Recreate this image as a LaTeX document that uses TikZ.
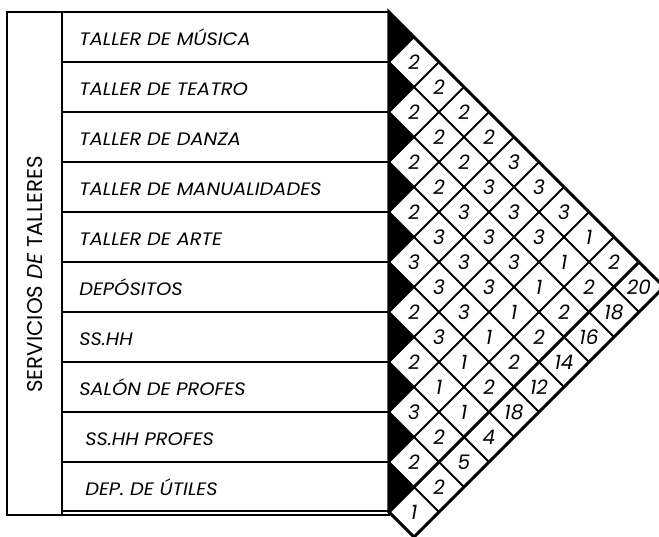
\documentclass[tikz,border=0pt]{standalone}
\usepackage{fontspec}
\setmainfont{Poppins}
\newfontfamily\rowfont{Poppins}[FakeStretch=1.08]
\begin{document}
\begin{tikzpicture}[x=37.5pt,y=37.5pt,
  rowtxt/.style={anchor=base west,inner sep=0pt,font=\rowfont\fontsize{13.5pt}{15pt}\selectfont\itshape},
  celltxt/.style={inner sep=0pt,font=\fontsize{15pt}{17pt}\selectfont\itshape},
  gridline/.style={line width=1.5pt},
  border/.style={line width=2.3pt,line join=miter}]
\useasboundingbox (-7.78,-0.48) rectangle (5.4,10.24);
\clip (-7.78,-0.48) rectangle (5.4,10.24);
% table of spaces
  \draw[line width=1.6pt] (-7.64,-0.06) rectangle (0,10);
  \draw[line width=1.6pt] (-6.54,-0.06) -- (-6.54,10);
  \draw[line width=1.2pt] (-6.54,9) -- (0,9);
  \draw[line width=1.2pt] (-6.54,8) -- (0,8);
  \draw[line width=1.2pt] (-6.54,7) -- (0,7);
  \draw[line width=1.2pt] (-6.54,6) -- (0,6);
  \draw[line width=1.2pt] (-6.54,5) -- (0,5);
  \draw[line width=1.2pt] (-6.54,4) -- (0,4);
  \draw[line width=1.2pt] (-6.54,3) -- (0,3);
  \draw[line width=1.2pt] (-6.54,2) -- (0,2);
  \draw[line width=1.2pt] (-6.54,1) -- (0,1);
  \draw[line width=1.2pt] (-6.54,0.02) -- (0,0.02);
\node[rotate=90,inner sep=0pt,font=\fontsize{16pt}{18pt}\selectfont] (title) at (-7.07,4.75) {SERVICIOS \textit{DE} TALLERES};
  \node[rowtxt] (m1) at (-6.2,9.33) {TALLER DE MÚSICA};
  \node[rowtxt] (m2) at (-6.2,8.33) {TALLER DE TEATRO};
  \node[rowtxt] (m3) at (-6.2,7.33) {TALLER DE DANZA};
  \node[rowtxt] (m4) at (-6.2,6.33) {TALLER DE MANUALIDADES};
  \node[rowtxt] (m5) at (-6.2,5.33) {TALLER DE ARTE};
  \node[rowtxt] (m6) at (-6.2,4.33) {DEPÓSITOS};
  \node[rowtxt] (m7) at (-6.2,3.33) {SS.HH};
  \node[rowtxt] (m8) at (-6.2,2.33) {SALÓN DE PROFES};
  \node[rowtxt] (m9) at (-6.08,1.33) {SS.HH PROFES};
  \node[rowtxt] (m10) at (-6.08,0.33) {DEP. DE ÚTILES};
% black half cells
  \fill (0,10) -- (0.5,9.5) -- (0,9) -- cycle;
  \fill (0,9) -- (0.5,8.5) -- (0,8) -- cycle;
  \fill (0,8) -- (0.5,7.5) -- (0,7) -- cycle;
  \fill (0,7) -- (0.5,6.5) -- (0,6) -- cycle;
  \fill (0,6) -- (0.5,5.5) -- (0,5) -- cycle;
  \fill (0,5) -- (0.5,4.5) -- (0,4) -- cycle;
  \fill (0,4) -- (0.5,3.5) -- (0,3) -- cycle;
  \fill (0,3) -- (0.5,2.5) -- (0,2) -- cycle;
  \fill (0,2) -- (0.5,1.5) -- (0,1) -- cycle;
  \fill (0,1) -- (0.5,0.5) -- (0,0) -- cycle;
% diamond grid
  \draw[gridline] (0,9) -- (5,4);
  \draw[gridline] (0,8) -- (4.5,3.5);
  \draw[gridline] (0,7) -- (4,3);
  \draw[gridline] (0,6) -- (3.5,2.5);
  \draw[gridline] (0,5) -- (3,2);
  \draw[gridline] (0,4) -- (2.5,1.5);
  \draw[gridline] (0,3) -- (2,1);
  \draw[gridline] (0,2) -- (1.5,0.5);
  \draw[gridline] (0,1) -- (1,0);
  \draw[gridline] (0,9) -- (0.5,9.5);
  \draw[gridline] (0,8) -- (1,9);
  \draw[gridline] (0,7) -- (1.5,8.5);
  \draw[gridline] (0,6) -- (2,8);
  \draw[gridline] (0,5) -- (2.5,7.5);
  \draw[gridline] (0,4) -- (3,7);
  \draw[gridline] (0,3) -- (3.5,6.5);
  \draw[gridline] (0,2) -- (4,6);
  \draw[gridline] (0,1) -- (4.5,5.5);
  \draw[border] (0,0) -- (5,5);
  \draw[border] (0,-0.02) -- (0,10) -- (5.5,4.5) -- (0.5,-0.5) -- (0,0);
% values
  \node[celltxt] (c1-2) at (0.5,9.0) {2};
  \node[celltxt] (c1-3) at (1.0,8.5) {2};
  \node[celltxt] (c1-4) at (1.5,8.0) {2};
  \node[celltxt] (c1-5) at (2.0,7.5) {2};
  \node[celltxt] (c1-6) at (2.5,7.0) {3};
  \node[celltxt] (c1-7) at (3.0,6.5) {3};
  \node[celltxt] (c1-8) at (3.5,6.0) {3};
  \node[celltxt] (c1-9) at (4.0,5.5) {1};
  \node[celltxt] (c1-10) at (4.5,5.0) {2};
  \node[celltxt] (c1-11) at (5.0,4.5) {20};
  \node[celltxt] (c2-3) at (0.5,8.0) {2};
  \node[celltxt] (c2-4) at (1.0,7.5) {2};
  \node[celltxt] (c2-5) at (1.5,7.0) {2};
  \node[celltxt] (c2-6) at (2.0,6.5) {3};
  \node[celltxt] (c2-7) at (2.5,6.0) {3};
  \node[celltxt] (c2-8) at (3.0,5.5) {3};
  \node[celltxt] (c2-9) at (3.5,5.0) {1};
  \node[celltxt] (c2-10) at (4.0,4.5) {2};
  \node[celltxt] (c2-11) at (4.5,4.0) {18};
  \node[celltxt] (c3-4) at (0.5,7.0) {2};
  \node[celltxt] (c3-5) at (1.0,6.5) {2};
  \node[celltxt] (c3-6) at (1.5,6.0) {3};
  \node[celltxt] (c3-7) at (2.0,5.5) {3};
  \node[celltxt] (c3-8) at (2.5,5.0) {3};
  \node[celltxt] (c3-9) at (3.0,4.5) {1};
  \node[celltxt] (c3-10) at (3.5,4.0) {2};
  \node[celltxt] (c3-11) at (4.0,3.5) {16};
  \node[celltxt] (c4-5) at (0.5,6.0) {2};
  \node[celltxt] (c4-6) at (1.0,5.5) {3};
  \node[celltxt] (c4-7) at (1.5,5.0) {3};
  \node[celltxt] (c4-8) at (2.0,4.5) {3};
  \node[celltxt] (c4-9) at (2.5,4.0) {1};
  \node[celltxt] (c4-10) at (3.0,3.5) {2};
  \node[celltxt] (c4-11) at (3.5,3.0) {14};
  \node[celltxt] (c5-6) at (0.5,5.0) {3};
  \node[celltxt] (c5-7) at (1.0,4.5) {3};
  \node[celltxt] (c5-8) at (1.5,4.0) {3};
  \node[celltxt] (c5-9) at (2.0,3.5) {1};
  \node[celltxt] (c5-10) at (2.5,3.0) {2};
  \node[celltxt] (c5-11) at (3.0,2.5) {12};
  \node[celltxt] (c6-7) at (0.5,4.0) {2};
  \node[celltxt] (c6-8) at (1.0,3.5) {3};
  \node[celltxt] (c6-9) at (1.5,3.0) {1};
  \node[celltxt] (c6-10) at (2.0,2.5) {2};
  \node[celltxt] (c6-11) at (2.5,2.0) {18};
  \node[celltxt] (c7-8) at (0.5,3.0) {2};
  \node[celltxt] (c7-9) at (1.0,2.5) {1};
  \node[celltxt] (c7-10) at (1.5,2.0) {1};
  \node[celltxt] (c7-11) at (2.0,1.5) {4};
  \node[celltxt] (c8-9) at (0.5,2.0) {3};
  \node[celltxt] (c8-10) at (1.0,1.5) {2};
  \node[celltxt] (c8-11) at (1.5,1.0) {5};
  \node[celltxt] (c9-10) at (0.5,1.0) {2};
  \node[celltxt] (c9-11) at (1.0,0.5) {2};
  \node[celltxt] (c10-11) at (0.5,0.0) {1};
\end{tikzpicture}
\end{document}
